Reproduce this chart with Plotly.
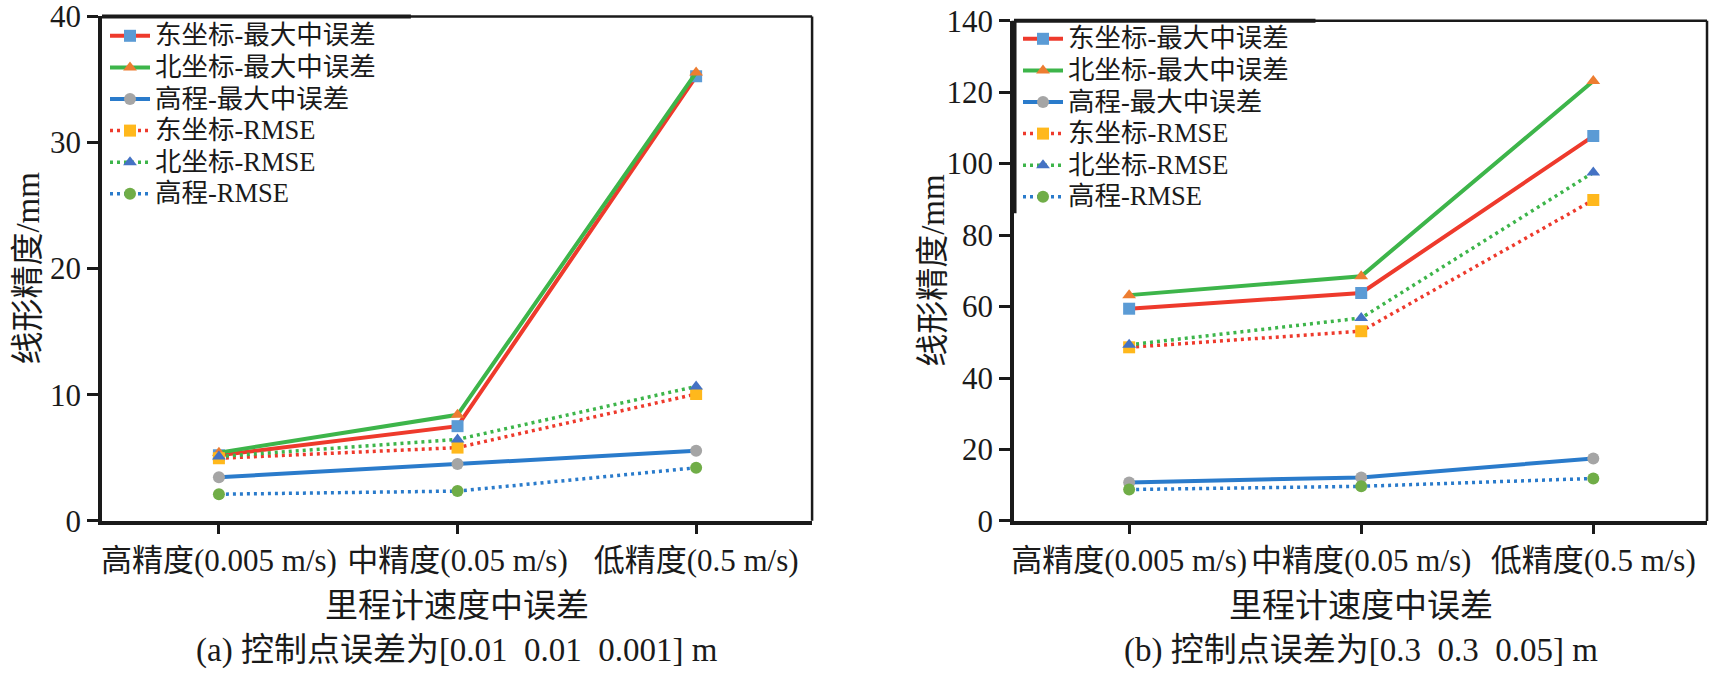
import plotly.graph_objects as go

categories = ["高精度(0.005 m/s)", "中精度(0.05 m/s)", "低精度(0.5 m/s)"]
series_names = ["东坐标-最大中误差", "北坐标-最大中误差", "高程-最大中误差",
                "东坐标-RMSE", "北坐标-RMSE", "高程-RMSE"]

# (a) 控制点误差为[0.01 0.01 0.001] m
a_east_max = [5.2, 7.5, 35.25]
a_north_max = [5.4, 8.4, 35.55]
a_height_max = [3.45, 4.5, 5.55]
a_east_rmse = [4.95, 5.8, 10.05]
a_north_rmse = [5.1, 6.45, 10.65]
a_height_rmse = [2.1, 2.35, 4.2]

# (b) 控制点误差为[0.3 0.3 0.05] m
b_east_max = [59.4, 63.8, 107.7]
b_north_max = [63.2, 68.5, 123.1]
b_height_max = [10.8, 12.2, 17.5]
b_east_rmse = [48.6, 53.1, 89.8]
b_north_rmse = [49.3, 56.8, 97.5]
b_height_rmse = [8.8, 9.7, 11.9]

panel_a = [a_east_max, a_north_max, a_height_max, a_east_rmse, a_north_rmse, a_height_rmse]
panel_b = [b_east_max, b_north_max, b_height_max, b_east_rmse, b_north_rmse, b_height_rmse]

# 线色 / 点色 / 点形 / 线型
line_colors = ["#EE3A2C", "#3DB54A", "#2A7BCB", "#EE3A2C", "#3DB54A", "#2A7BCB"]
marker_colors = ["#5B9BD5", "#ED7D31", "#A5A5A5", "#FFB81C", "#4472C4", "#70AD47"]
symbols = ["square", "triangle-up", "circle", "square", "triangle-up", "circle"]
dashes = ["solid", "solid", "solid", "3px,4px", "3px,4px", "3px,4px"]

FONT = "Liberation Serif, Noto Sans CJK SC"
INK = "#1a1a1a"

fig = go.Figure()

for panel, xa, ya, lg in [(panel_a, "x", "y", "legend"), (panel_b, "x2", "y2", "legend2")]:
    for i, vals in enumerate(panel):
        fig.add_trace(
            go.Scatter(
                x=categories,
                y=vals,
                # 图例字号比行距大一点
                name='<span style="font-size:26.5px">' + series_names[i] + "</span>",
                mode="lines+markers",
                xaxis=xa,
                yaxis=ya,
                legend=lg,
                line=dict(color=line_colors[i], width=4 if i < 3 else 3.5, dash=dashes[i]),
                marker=dict(symbol=symbols[i], color=marker_colors[i], size=12),
            )
        )

xaxis_style = dict(
    type="category",
    showline=True,
    linecolor=INK,
    linewidth=4,
    ticks="outside",
    ticklen=9,
    tickwidth=2.5,
    tickcolor=INK,
    ticklabelstandoff=0,
    ticklabeloverflow="allow",
    tickfont=dict(family=FONT, size=31, color=INK),
    showgrid=False,
    zeroline=False,
    automargin=False,
)
yaxis_style = dict(
    showline=True,
    linecolor=INK,
    linewidth=3.5,
    ticks="outside",
    ticklen=11,
    tickwidth=3,
    tickcolor=INK,
    ticklabelstandoff=0,
    ticklabeloverflow="allow",
    tickfont=dict(family=FONT, size=31, color=INK),
    showgrid=False,
    zeroline=False,
    automargin=False,
)

legend_style = dict(
    xanchor="left",
    yanchor="top",
    bgcolor="rgba(255,255,255,0)",
    font=dict(family=FONT, size=22, color=INK),
    itemwidth=40,
    tracegroupgap=0,
)

fig.update_layout(
    width=1726,
    height=678,
    margin=dict(l=0, r=0, t=0, b=0),
    paper_bgcolor="white",
    plot_bgcolor="white",
    xaxis=dict(domain=[0.0591, 0.4705], anchor="y", range=[-0.49, 2.486], **xaxis_style),
    yaxis=dict(domain=[0.232, 0.9757], anchor="x", range=[0, 40], tickvals=[0, 10, 20, 30, 40], **yaxis_style),
    xaxis2=dict(domain=[0.5875, 0.9890], anchor="y2", range=[-0.496, 2.49], **xaxis_style),
    yaxis2=dict(domain=[0.2316, 0.9695], anchor="x2", range=[0, 140],
                tickvals=[0, 20, 40, 60, 80, 100, 120, 140], **yaxis_style),
    legend=dict(x=105 / 1726, y=1 - 15 / 678, **legend_style),
    legend2=dict(x=1018 / 1726, y=1 - 18 / 678, **legend_style),
    showlegend=True,
)

# 上框线和右框线
for xr, yr in [("x domain", "y domain"), ("x2 domain", "y2 domain")]:
    fig.add_shape(type="line", xref=xr, yref=yr, x0=0, x1=1, y0=1, y1=1,
                  line=dict(color=INK, width=2.5))
    fig.add_shape(type="line", xref=xr, yref=yr, x0=0, x1=0.435, y0=1, y1=1,
                  line=dict(color=INK, width=4))
    fig.add_shape(type="line", xref=xr, yref=yr, x0=1, x1=1, y0=0, y1=1,
                  line=dict(color=INK, width=2.5))
fig.add_shape(type="line", xref="x2 domain", yref="y2 domain", x0=0, x1=0, y0=0.615, y1=1,
              line=dict(color=INK, width=5))

# 坐标轴标题和子图标题
for xr, yr, cap in [("x domain", "y domain", "(a) 控制点误差为[0.01\u00a0\u00a00.01\u00a0\u00a00.001] m"),
                    ("x2 domain", "y2 domain", "(b) 控制点误差为[0.3\u00a0\u00a00.3\u00a0\u00a00.05] m")]:
    fig.add_annotation(text="里程计速度中误差", xref=xr, yref="paper", x=0.5, y=1 - 606 / 678,
                       xanchor="center", yanchor="middle", showarrow=False,
                       font=dict(family=FONT, size=33, color=INK))
    fig.add_annotation(text=cap, xref=xr, yref="paper", x=0.5, y=1 - 650 / 678,
                       xanchor="center", yanchor="middle", showarrow=False,
                       font=dict(family=FONT, size=33, color=INK))

fig.add_annotation(text="线形精度/mm", xref="x domain", yref="y domain", x=0, y=0.5,
                   xshift=-74, textangle=-90, xanchor="center", yanchor="middle",
                   showarrow=False, font=dict(family=FONT, size=33, color=INK))
fig.add_annotation(text="线形精度/mm", xref="x2 domain", yref="y2 domain", x=0, y=0.5,
                   xshift=-81, textangle=-90, xanchor="center", yanchor="middle",
                   showarrow=False, font=dict(family=FONT, size=33, color=INK))

fig.write_html("out.html", config={"displayModeBar": False},
               post_script="document.body.style.margin='0px';")
